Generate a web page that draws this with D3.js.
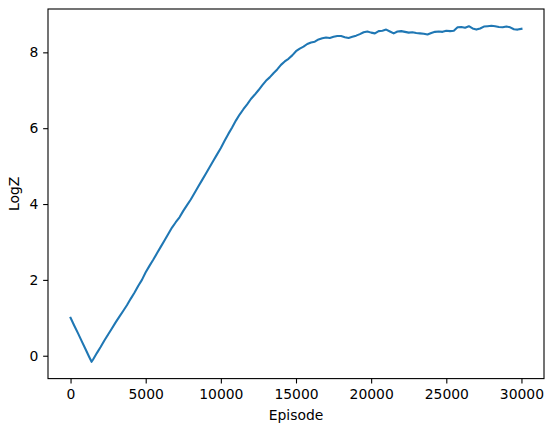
<!DOCTYPE html>
<html>
<head>
<meta charset="utf-8">
<script src="https://cdn.jsdelivr.net/npm/d3@7"></script>
<style>
  body { margin: 0; background: #fff; }
  svg { display: block; }
  .tick text { font-family: "DejaVu Sans", sans-serif; font-size: 13.9px; fill: #000; }
  .axis-label { font-family: "DejaVu Sans", sans-serif; font-size: 13.9px; fill: #000; }
</style>
</head>
<body>
<div id="chart-area"></div>
<script>
// episodes, every 250 (plus the low point at 1400)
var episodes = [0, 250, 500, 750, 1000, 1250, 1400].concat(d3.range(1500, 30001, 250));
var logZ = [
    1.00, 0.79, 0.59, 0.38, 0.17, -0.04, -0.16, -0.10, 0.07, 0.23, 0.40,
    0.56, 0.72, 0.88, 1.03, 1.18, 1.33, 1.50, 1.66, 1.84, 2.00,
    2.20, 2.37, 2.53, 2.70, 2.87, 3.04, 3.21, 3.38, 3.52, 3.65,
    3.82, 3.97, 4.12, 4.29, 4.46, 4.63, 4.80, 4.97, 5.14, 5.31,
    5.48, 5.67, 5.85, 6.02, 6.20, 6.36, 6.50, 6.63, 6.77, 6.88,
    7.00, 7.13, 7.25, 7.34, 7.45, 7.55, 7.67, 7.76, 7.83, 7.92,
    8.03, 8.10, 8.15, 8.22, 8.26, 8.28, 8.34, 8.37, 8.39, 8.38,
    8.41, 8.43, 8.43, 8.40, 8.38, 8.41, 8.44, 8.48, 8.53, 8.55,
    8.52, 8.50, 8.56, 8.57, 8.60, 8.55, 8.50, 8.55, 8.56, 8.54,
    8.52, 8.53, 8.51, 8.50, 8.49, 8.47, 8.51, 8.54, 8.55, 8.54,
    8.57, 8.56, 8.57, 8.66, 8.67, 8.65, 8.69, 8.63, 8.60, 8.63,
    8.68, 8.69, 8.70, 8.69, 8.67, 8.66, 8.68, 8.66, 8.61, 8.60,
    8.62
];
var xTicks = [0, 5000, 10000, 15000, 20000, 25000, 30000];
var yTicks = [0, 2, 4, 6, 8];

var data = episodes.map(function(e, i){
    return {ep: e, z: logZ[i]};
});

var margin = {left: 48, right: 10, top: 9, bottom: 53.4};
var width = 496;
var height = 369.6;

var svg = d3.select("#chart-area")
    .append("svg")
    .attr("width", 554)
    .attr("height", 432);

var g = svg.append("g")
    .attr("transform", "translate(" + margin.left + "," + margin.top + ")");

// matplotlib style 5% margins
var xExt = d3.extent(data, function(d){ return d.ep; });
var yExt = d3.extent(data, function(d){ return d.z; });
var xPad = (xExt[1] - xExt[0]) * 0.05;
var yPad = (yExt[1] - yExt[0]) * 0.05;

var x = d3.scaleLinear()
    .domain([xExt[0] - xPad, xExt[1] + xPad])
    .range([0, width]);

var y = d3.scaleLinear()
    .domain([yExt[0] - yPad, yExt[1] + yPad])
    .range([height, 0]);

var xAxisCall = d3.axisBottom(x)
    .tickValues(xTicks)
    .tickFormat(d3.format("d"))
    .tickSize(4.86)
    .tickPadding(4.86);
var xAxis = g.append("g")
    .attr("class", "xaxis")
    .attr("transform", "translate(0," + height + ")")
    .call(xAxisCall);
xAxis.select(".domain").remove();
xAxis.selectAll("line").attr("stroke", "#000").attr("stroke-width", 1.1);
xAxis.selectAll("text").attr("dy", "0.76em");

var yAxisCall = d3.axisLeft(y)
    .tickValues(yTicks)
    .tickSize(4.86)
    .tickPadding(4.86);
var yAxis = g.append("g")
    .attr("class", "yaxis")
    .call(yAxisCall);
yAxis.select(".domain").remove();
yAxis.selectAll("line").attr("stroke", "#000").attr("stroke-width", 1.1);

var line = d3.line()
    .x(function(d){ return x(d.ep); })
    .y(function(d){ return y(d.z); });

g.append("path")
    .datum(data)
    .attr("fill", "none")
    .attr("stroke", "#1f77b4")
    .attr("stroke-width", 2.08)
    .attr("stroke-linejoin", "round")
    .attr("stroke-linecap", "square")
    .attr("d", line);

// frame
g.append("rect")
    .attr("x", 0)
    .attr("y", 0)
    .attr("width", width)
    .attr("height", height)
    .attr("fill", "none")
    .attr("stroke", "#000")
    .attr("stroke-width", 1.1);

g.append("text")
    .attr("class", "axis-label")
    .attr("x", width / 2)
    .attr("y", 411)
    .attr("text-anchor", "middle")
    .text("Episode");

g.append("text")
    .attr("class", "axis-label")
    .attr("x", -(height / 2))
    .attr("y", -29)
    .attr("text-anchor", "middle")
    .attr("transform", "rotate(-90)")
    .text("LogZ");
</script>
</body>
</html>
